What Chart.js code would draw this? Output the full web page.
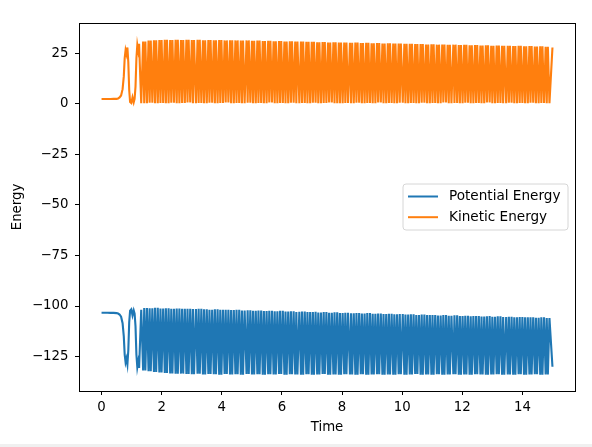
<!DOCTYPE html>
<html>
<head>
<meta charset="utf-8">
<script src="https://cdn.jsdelivr.net/npm/chart.js"></script>
<style>
  html, body { margin: 0; padding: 0; background: #ffffff; overflow: hidden; }
  #wrap { position: relative; width: 592px; height: 447px; }
  #c { display: block; }
  #strip { position: absolute; left: 0; bottom: 0; width: 592px; height: 3px; background: #f0f0f0; }
</style>
</head>
<body>
<div id="wrap">
  <canvas id="c" width="592" height="447"></canvas>
  <div id="strip"></div>
</div>
<script>
// ---------------- data ----------------
const seriesLabels = ["Potential Energy", "Kinetic Energy"];
const xAxisLabel = "Time";
const yAxisLabel = "Energy";
const xTicks = [0, 2, 4, 6, 8, 10, 12, 14];
const yTicks = [25, 0, -25, -50, -75, -100, -125];

// start-up segment (before the regular oscillation)
const earlyTime = [0.00, 0.10, 0.20, 0.30, 0.40, 0.50, 0.55, 0.60, 0.65, 0.70, 0.74, 0.77, 0.80, 0.83, 0.86, 0.89, 0.92, 0.95, 0.99, 1.03, 1.07, 1.10, 1.13, 1.16, 1.19, 1.22, 1.25, 1.28, 1.32];
const earlyPotential = [-103.3, -103.3, -103.3, -103.4, -103.4, -103.5, -103.7, -104.2, -105.3, -108.5, -115.0, -124.0, -127.8, -126.0, -128.8, -122.0, -108.0, -102.3, -101.6, -104.6, -102.2, -103.8, -110.0, -124.0, -130.2, -127.5, -130.6, -118.0, -101.8];
const earlyKinetic = [2.3, 2.3, 2.3, 2.3, 2.4, 2.4, 2.6, 3.1, 4.1, 7.2, 13.5, 22.5, 26.5, 24.6, 27.8, 20.6, 6.8, 0.8, 0.3, 3.2, 0.7, 2.4, 8.5, 22.5, 29.0, 26.2, 29.6, 16.5, 0.3];

// regular oscillation: extremes of each swing
const cycleTime = [
  1.42, 1.51, 1.60, 1.69, 1.78, 1.87, 1.96, 2.05, 2.14, 2.23, 2.32, 2.41, 2.50, 2.59, 2.68, 2.77, 2.86, 2.95, 3.04,
  3.14, 3.23, 3.32, 3.41, 3.50, 3.59, 3.68, 3.77, 3.86, 3.95, 4.04, 4.13, 4.22, 4.31, 4.40, 4.49, 4.58, 4.67, 4.76,
  4.86, 4.95, 5.04, 5.13, 5.22, 5.31, 5.40, 5.49, 5.58, 5.67, 5.76, 5.85, 5.94, 6.03, 6.12, 6.21, 6.30, 6.39, 6.48,
  6.58, 6.67, 6.76, 6.85, 6.94, 7.03, 7.12, 7.21, 7.30, 7.39, 7.48, 7.57, 7.66, 7.75, 7.84, 7.93, 8.02, 8.11, 8.20,
  8.30, 8.39, 8.48, 8.57, 8.66, 8.75, 8.84, 8.93, 9.02, 9.11, 9.20, 9.29, 9.38, 9.47, 9.56, 9.65, 9.74, 9.83, 9.92,
  10.02, 10.11, 10.20, 10.29, 10.38, 10.47, 10.56, 10.65, 10.74, 10.83, 10.92, 11.01, 11.10, 11.19, 11.28, 11.37, 11.46, 11.55, 11.64,
  11.74, 11.83, 11.92, 12.01, 12.10, 12.19, 12.28, 12.37, 12.46, 12.55, 12.64, 12.73, 12.82, 12.91, 13.00, 13.09, 13.18, 13.27, 13.36,
  13.46, 13.55, 13.64, 13.73, 13.82, 13.91, 14.00, 14.09, 14.18, 14.27, 14.36, 14.45, 14.54, 14.63, 14.72, 14.81, 14.90,
  15.00];
const cyclePotential = [
  -131.8, -101.0, -132.2, -101.1, -132.6, -100.9, -132.9, -101.2, -133.1, -101.1,
  -133.3, -101.3, -133.5, -101.2, -133.4, -101.4, -133.6, -101.3, -133.7, -101.5,
  -133.5, -101.4, -133.8, -101.6, -133.6, -101.8, -133.7, -101.6, -133.9, -101.9,
  -133.6, -101.8, -133.8, -102.0, -133.7, -101.9, -133.9, -102.2, -133.6, -102.1,
  -133.8, -102.3, -133.7, -102.2, -134.0, -102.5, -133.7, -102.3, -133.8, -102.6,
  -133.6, -102.4, -133.9, -102.7, -133.7, -102.6, -133.8, -102.9, -134.0, -102.7,
  -133.7, -103.0, -133.9, -102.9, -133.8, -103.2, -133.6, -103.0, -133.9, -103.3,
  -133.8, -103.1, -134.0, -103.4, -133.7, -103.3, -133.8, -103.6, -133.9, -103.4,
  -133.7, -103.7, -134.0, -103.5, -133.8, -103.8, -133.7, -103.7, -133.9, -104.0,
  -133.8, -103.8, -134.0, -104.1, -133.7, -104.0, -133.9, -104.2, -133.8, -104.1,
  -133.6, -104.4, -133.9, -104.2, -133.8, -104.5, -134.0, -104.4, -133.7, -104.7,
  -133.9, -104.5, -133.8, -104.8, -133.7, -104.6, -134.0, -104.9, -133.8, -104.8,
  -133.9, -105.0, -133.7, -104.9, -133.8, -105.2, -134.0, -105.0, -133.8, -105.3,
  -133.7, -105.1, -133.9, -105.4, -133.8, -105.3, -134.0, -105.5, -133.7, -105.4,
  -133.9, -105.6, -133.8, -105.5, -133.7, -105.8, -133.9, -105.6, -133.8, -105.9,
  -130.0];
const cycleKinetic = [
  30.8, 0.3, 31.2, 0.5, 31.4, 0.2, 31.5, 0.4, 31.6, 0.3,
  31.5, 0.5, 31.6, 0.2, 31.5, 0.4, 31.6, 0.6, 31.5, 0.3,
  31.6, 0.4, 31.4, 0.2, 31.5, 0.5, 31.4, 0.3, 31.5, 0.4,
  31.3, 0.6, 31.4, 0.2, 31.3, 0.4, 31.2, 0.3, 31.3, 0.5,
  31.1, 0.2, 31.2, 0.4, 31.0, 0.3, 31.1, 0.6, 30.9, 0.2,
  31.0, 0.4, 30.8, 0.3, 30.9, 0.5, 30.7, 0.2, 30.8, 0.4,
  30.6, 0.3, 30.6, 0.5, 30.4, 0.2, 30.5, 0.4, 30.3, 0.6,
  30.4, 0.3, 30.2, 0.2, 30.3, 0.4, 30.1, 0.3, 30.2, 0.5,
  30.0, 0.2, 30.1, 0.4, 29.9, 0.3, 30.0, 0.6, 29.8, 0.2,
  29.9, 0.4, 29.7, 0.3, 29.8, 0.5, 29.6, 0.2, 29.6, 0.4,
  29.5, 0.3, 29.5, 0.5, 29.3, 0.2, 29.4, 0.4, 29.2, 0.3,
  29.3, 0.6, 29.1, 0.2, 29.2, 0.4, 29.0, 0.3, 29.1, 0.5,
  28.9, 0.2, 29.0, 0.4, 28.8, 0.3, 28.9, 0.6, 28.7, 0.2,
  28.8, 0.4, 28.6, 0.3, 28.7, 0.5, 28.5, 0.2, 28.6, 0.4,
  28.4, 0.3, 28.5, 0.5, 28.3, 0.2, 28.4, 0.4, 28.2, 0.3,
  27.8];

const seriesColors = ["#1f77b4", "#ff7f0e"];
// ------------------------------------------------------------------------

// Each fast swing is drawn as a close pair of extremes (as seen in the picture).
const pairHalf = 0.037;
function buildSeries(early, cyc) {
  const pts = earlyTime.map((t, i) => ({ x: t, y: early[i] }));
  const last = cycleTime.length - 1;
  cycleTime.forEach((t, k) => {
    if (k % 2 === 0 && k !== last) {
      const dip = cyc[k + 1];
      pts.push({ x: t - pairHalf, y: cyc[k] }, { x: t, y: dip }, { x: t + pairHalf, y: cyc[k] });
    } else {
      pts.push({ x: t, y: cyc[k] });
    }
  });
  return pts;
}

const FONT = "DejaVu Sans";
const FS = 13.3;
const LEG_FS = 13.6;
const fmt = v => (v < 0 ? "\u2212" + Math.abs(v) : String(v));

const frame = {
  id: "frame",
  afterDraw(chart) {
    const { ctx, chartArea: a } = chart;
    ctx.save();
    ctx.strokeStyle = "#000";
    ctx.lineWidth = 1;
    ctx.strokeRect(Math.round(a.left) + 0.5, Math.round(a.top) + 0.5,
                   Math.round(a.right - a.left), Math.round(a.bottom - a.top));
    // legend, matplotlib style, centre right
    const w = 165, h = 46;
    const x = a.right - 7 - w;
    const y = (a.top + a.bottom) / 2 - h / 2;
    const r = 3;
    ctx.beginPath();
    ctx.moveTo(x + r, y);
    ctx.lineTo(x + w - r, y); ctx.quadraticCurveTo(x + w, y, x + w, y + r);
    ctx.lineTo(x + w, y + h - r); ctx.quadraticCurveTo(x + w, y + h, x + w - r, y + h);
    ctx.lineTo(x + r, y + h); ctx.quadraticCurveTo(x, y + h, x, y + h - r);
    ctx.lineTo(x, y + r); ctx.quadraticCurveTo(x, y, x + r, y);
    ctx.closePath();
    ctx.fillStyle = "rgba(255,255,255,0.8)";
    ctx.fill();
    ctx.strokeStyle = "#d6d6d6";
    ctx.stroke();
    ctx.font = LEG_FS + "px '" + FONT + "'";
    ctx.textBaseline = "middle";
    ctx.textAlign = "left";
    chart.data.datasets.forEach((ds, i) => {
      const ly = y + 12.5 + i * 20.7;
      ctx.beginPath();
      ctx.strokeStyle = ds.borderColor;
      ctx.lineWidth = 2;
      ctx.moveTo(x + 5, ly);
      ctx.lineTo(x + 35, ly);
      ctx.stroke();
      ctx.fillStyle = "#000";
      ctx.fillText(ds.label, x + 46, ly);
    });
    ctx.restore();
  }
};

new Chart(document.getElementById("c"), {
  type: "line",
  data: {
    datasets: [
      { label: seriesLabels[0], data: buildSeries(earlyPotential, cyclePotential), borderColor: seriesColors[0],
        backgroundColor: seriesColors[0], borderWidth: 2.1, pointRadius: 0, tension: 0, fill: false },
      { label: seriesLabels[1], data: buildSeries(earlyKinetic, cycleKinetic), borderColor: seriesColors[1],
        backgroundColor: seriesColors[1], borderWidth: 2.1, pointRadius: 0, tension: 0, fill: false }
    ]
  },
  options: {
    responsive: false,
    animation: false,
    events: [],
    layout: { padding: { top: 23, right: 17, left: 0, bottom: 0 } },
    plugins: { legend: { display: false }, tooltip: { enabled: false }, title: { display: false } },
    scales: {
      x: {
        type: "linear",
        min: -0.75, max: 15.75,
        afterFit(s) { s.height = 56; },
        afterBuildTicks(s) { s.ticks = xTicks.map(v => ({ value: v })); },
        grid: { drawOnChartArea: false, drawTicks: true, tickLength: 4, tickColor: "#000", lineWidth: 1 },
        border: { display: false },
        ticks: { color: "#000", font: { family: FONT, size: FS }, padding: 4.5, maxRotation: 0, autoSkip: false,
                 callback: v => fmt(v) },
        title: { display: true, text: xAxisLabel, color: "#000", font: { family: FONT, size: FS },
                 padding: { top: 0, bottom: 11 } }
      },
      y: {
        type: "linear",
        min: -142.0, max: 39.9,
        afterFit(s) { s.width = 79; },
        afterBuildTicks(s) { s.ticks = yTicks.map(v => ({ value: v })); },
        grid: { drawOnChartArea: false, drawTicks: true, tickLength: 4, tickColor: "#000", lineWidth: 1 },
        border: { display: false },
        ticks: { color: "#000", font: { family: FONT, size: FS }, padding: 6.5, autoSkip: false,
                 callback: v => fmt(v) },
        title: { display: true, text: yAxisLabel, color: "#000", font: { family: FONT, size: FS },
                 padding: { top: 10, bottom: 0 } }
      }
    }
  },
  plugins: [frame]
});
</script>
</body>
</html>
